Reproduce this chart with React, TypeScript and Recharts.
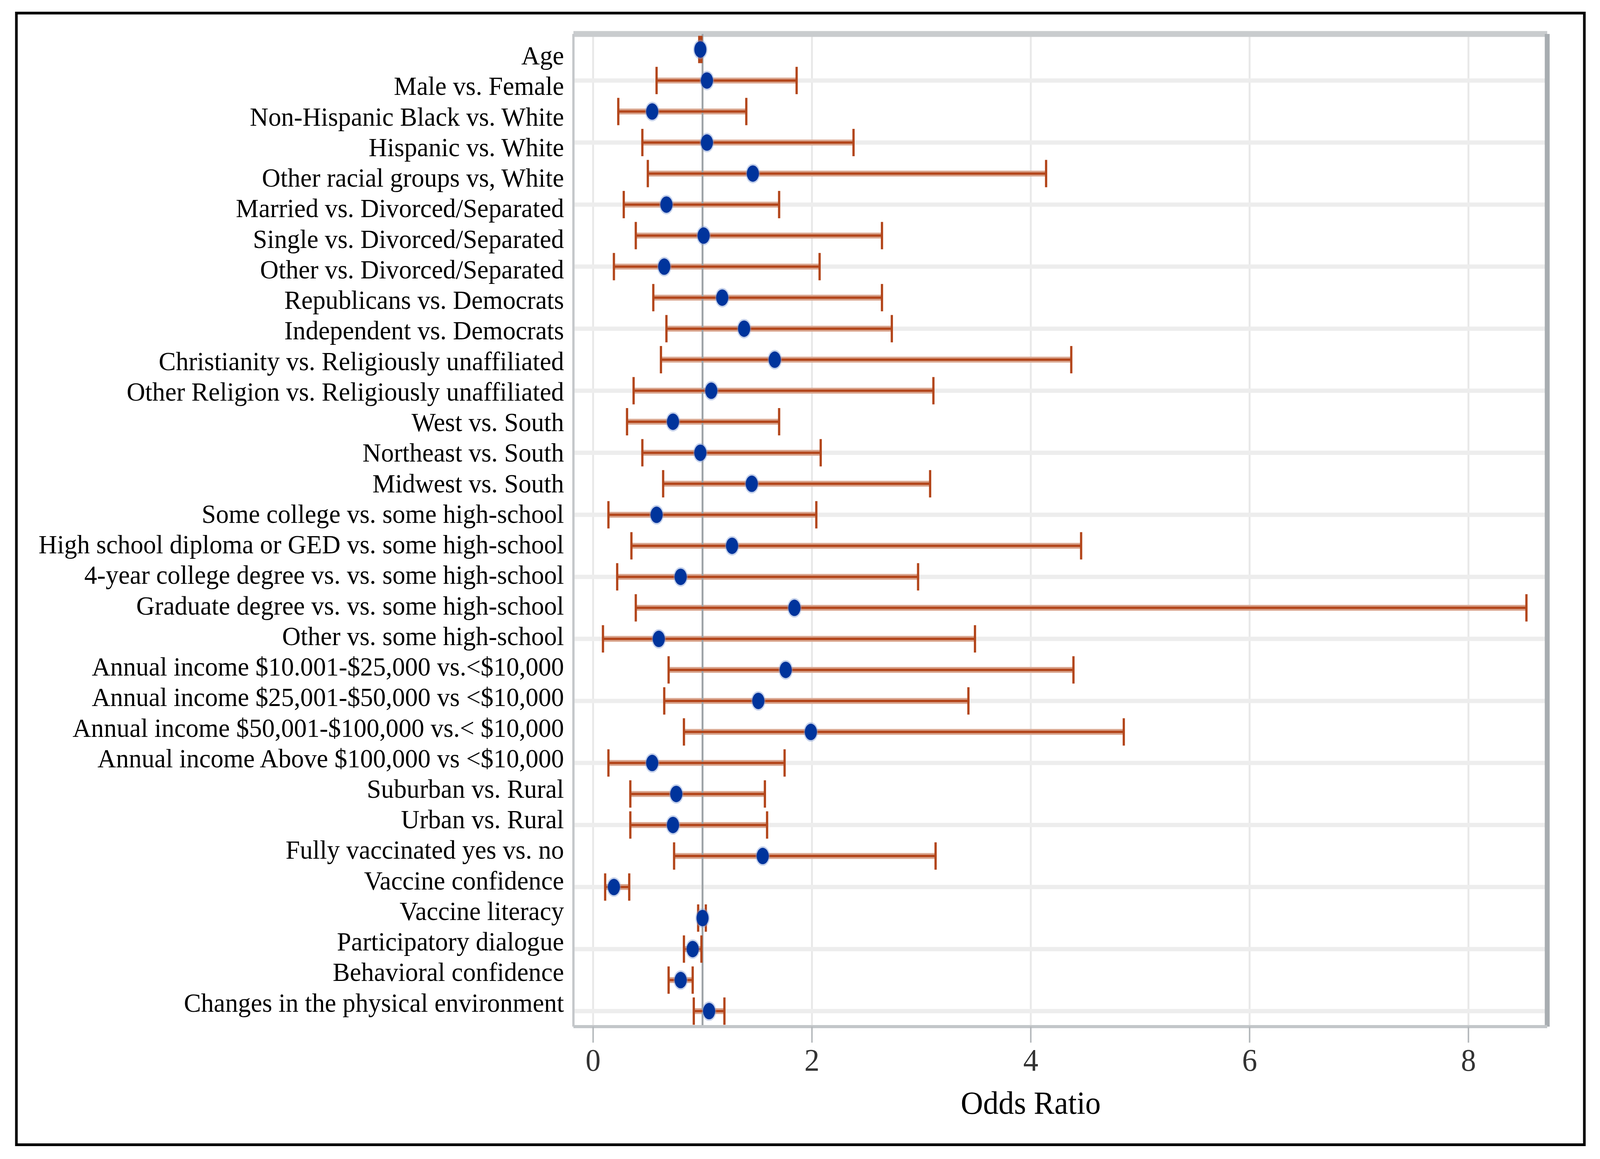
import React from 'react';
import { ScatterChart, Scatter, XAxis, YAxis, CartesianGrid, ErrorBar, ReferenceLine } from 'recharts';

// categories, top to bottom
const labels = [
  'Age',
  'Male vs. Female',
  'Non-Hispanic Black vs. White',
  'Hispanic vs. White',
  'Other racial groups vs, White',
  'Married vs. Divorced/Separated',
  'Single vs. Divorced/Separated',
  'Other vs. Divorced/Separated',
  'Republicans vs. Democrats',
  'Independent vs. Democrats',
  'Christianity vs. Religiously unaffiliated',
  'Other Religion vs. Religiously unaffiliated',
  'West vs. South',
  'Northeast vs. South',
  'Midwest vs. South',
  'Some college vs. some high-school',
  'High school diploma or GED vs. some high-school',
  '4-year college degree vs. vs. some high-school',
  'Graduate degree vs. vs. some high-school',
  'Other vs. some high-school',
  'Annual income $10.001-$25,000 vs.<$10,000',
  'Annual income $25,001-$50,000 vs <$10,000',
  'Annual income $50,001-$100,000 vs.< $10,000',
  'Annual income Above $100,000 vs <$10,000',
  'Suburban vs. Rural',
  'Urban vs. Rural',
  'Fully vaccinated yes vs. no',
  'Vaccine confidence',
  'Vaccine literacy',
  'Participatory dialogue',
  'Behavioral confidence',
  'Changes in the physical environment',
];

const oddsRatio = [
  0.98, 1.04, 0.54, 1.04, 1.46, 0.67, 1.01, 0.65, 1.18, 1.38, 1.66, 1.08, 0.73, 0.98, 1.45, 0.58,
  1.27, 0.80, 1.84, 0.60, 1.76, 1.51, 1.99, 0.54, 0.76, 0.73, 1.55, 0.19, 1.0, 0.91, 0.80, 1.06,
];
const ciLow = [
  0.97, 0.58, 0.23, 0.45, 0.50, 0.28, 0.39, 0.19, 0.55, 0.67, 0.62, 0.37, 0.31, 0.45, 0.64, 0.14,
  0.35, 0.22, 0.39, 0.09, 0.69, 0.65, 0.83, 0.14, 0.34, 0.34, 0.74, 0.11, 0.96, 0.83, 0.69, 0.92,
];
const ciHigh = [
  0.99, 1.86, 1.40, 2.38, 4.14, 1.70, 2.64, 2.07, 2.64, 2.73, 4.37, 3.11, 1.70, 2.08, 3.08, 2.04,
  4.46, 2.97, 8.53, 3.49, 4.39, 3.43, 4.85, 1.75, 1.57, 1.59, 3.13, 0.33, 1.03, 0.99, 0.91, 1.20,
];

const xTicks = [0, 2, 4, 6, 8];
const xDomain: [number, number] = [-0.18, 8.72];
const yDomain: [number, number] = [-0.5, 31.5];

const rows = labels.map((name, i) => ({
  idx: i,
  name,
  or: oddsRatio[i],
  err: [oddsRatio[i] - ciLow[i], ciHigh[i] - oddsRatio[i]],
}));

const W = 4244;
const H = 2968;
const serif = '"Liberation Serif", "Times New Roman", serif';

// labels in the source drift a little against the rows (down at top, up at bottom)
const YTick = (props: any) => {
  const { x, y, payload } = props;
  const i = payload.value as number;
  const drift = 16 - (37 * i) / (labels.length - 1);
  return (
    <text x={x} y={y + drift} dy="0.33em" textAnchor="end" fontSize={68} fontFamily={serif} fill="#000">
      {labels[i]}
    </text>
  );
};

const Dot = (props: any) => {
  const { cx, cy } = props;
  return (
    <g>
      <ellipse cx={cx} cy={cy} rx={19} ry={25} fill="#7f98d2" opacity={0.45} />
      <ellipse cx={cx} cy={cy} rx={16} ry={21} fill="#00349c" />
    </g>
  );
};

const NoDot = () => <g />;

export default function App() {
  // the browser caps the viewport width, so squeeze the figure to fit it
  const vw = typeof window !== 'undefined' ? window.innerWidth : W;
  const k = Math.min(1, vw / W);
  return (
    <div style={{ position: 'absolute', left: 0, top: 0, width: Math.floor(W * k), height: H, overflow: 'hidden', background: '#fff' }}>
      <div style={{ position: 'absolute', left: 0, top: 0, width: W, height: H, transform: `scale(${k}, 1)`, transformOrigin: '0 0' }}>
        <div
          style={{
            position: 'absolute',
            left: 40,
            top: 30,
            width: 4166,
            height: 2905,
            border: '7px solid #000',
            boxSizing: 'border-box',
          }}
        />
        <div style={{ position: 'absolute', left: 0, top: 0 }}>
          <ScatterChart width={W} height={H} margin={{ top: 87, right: 140, bottom: 239, left: 0 }}>
            <CartesianGrid horizontal={false} stroke="#e8e8e8" strokeWidth={5} />
            {rows
              .filter((r) => r.idx % 2 === 1)
              .map((r) => (
                <ReferenceLine key={r.idx} y={r.idx} stroke="#ededed" strokeWidth={11} ifOverflow="visible" />
              ))}
            <ReferenceLine y={yDomain[0]} stroke="#c9ccce" strokeWidth={15} ifOverflow="visible" />
            <ReferenceLine x={xDomain[1]} stroke="#a8adb1" strokeWidth={13} ifOverflow="visible" />
            <ReferenceLine
              x={(xTicks[0] + xTicks[xTicks.length - 1]) / 2}
              stroke="none"
              label={{ value: 'Odds Ratio', position: 'bottom', offset: 165, fontSize: 82, fill: '#000', fontFamily: serif }}
            />
            <XAxis
              type="number"
              dataKey="or"
              domain={xDomain}
              allowDataOverflow
              ticks={xTicks}
              height={100}
              axisLine={{ stroke: '#c2c6c9', strokeWidth: 8 }}
              tickLine={{ stroke: '#b4b8bb', strokeWidth: 4 }}
              tickSize={41}
              tickMargin={15}
              tick={{ fontSize: 80, fill: '#333', fontFamily: serif }}
            />
            <YAxis
              type="number"
              dataKey="idx"
              domain={yDomain}
              allowDataOverflow
              reversed
              ticks={labels.map((_, i) => i)}
              interval={0}
              width={1521}
              axisLine={{ stroke: '#c4c7ca', strokeWidth: 6 }}
              tickLine={false}
              tickSize={0}
              tickMargin={25}
              tick={YTick}
            />
            {/* soft halo under the CI lines */}
            <Scatter data={rows} shape={NoDot} isAnimationActive={false}>
              <ErrorBar dataKey="err" direction="x" width={0} stroke="#d9a58e" strokeWidth={15} isAnimationActive={false} />
            </Scatter>
            <ReferenceLine x={1} stroke="#9ea3a7" strokeWidth={5} />
            <Scatter data={rows} shape={Dot} isAnimationActive={false}>
              <ErrorBar dataKey="err" direction="x" width={35} stroke="#b3461b" strokeWidth={6} isAnimationActive={false} />
            </Scatter>
          </ScatterChart>
        </div>
      </div>
    </div>
  );
}
